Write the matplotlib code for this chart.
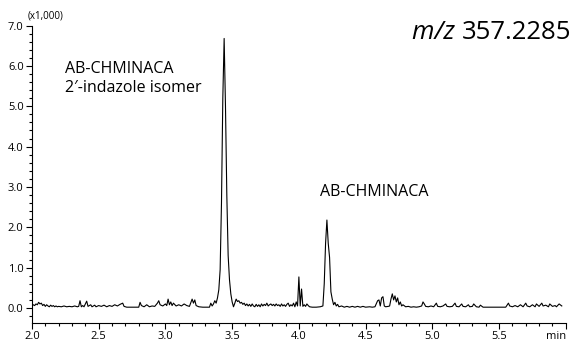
import numpy as np
import matplotlib
matplotlib.use("Agg")
import matplotlib.pyplot as plt
from matplotlib.ticker import MultipleLocator, FixedLocator

plt.rcParams['font.family'] = ['Open Sans', 'DejaVu Sans']

# retention time (min) and intensity (x1,000)
time = [
    2.00, 2.01, 2.02, 2.03, 2.04, 2.05, 2.06, 2.07, 2.08, 2.09,
    2.10, 2.11, 2.12, 2.13, 2.14, 2.15, 2.16, 2.17, 2.18, 2.19,
    2.20, 2.22, 2.24, 2.26, 2.28, 2.30, 2.32, 2.34, 2.35, 2.36,
    2.37, 2.38, 2.39, 2.41, 2.42, 2.44, 2.45, 2.47, 2.48, 2.50,
    2.52, 2.54, 2.56, 2.58, 2.60, 2.62, 2.64, 2.66, 2.68, 2.69,
    2.71, 2.74, 2.77, 2.80, 2.81, 2.82, 2.84, 2.86, 2.88, 2.90,
    2.92, 2.94, 2.95, 2.96, 2.98, 3.00, 3.01, 3.02, 3.03, 3.04,
    3.05, 3.06, 3.08, 3.10, 3.12, 3.14, 3.16, 3.18, 3.20, 3.21,
    3.22, 3.23, 3.25, 3.28, 3.31, 3.33, 3.34, 3.35, 3.36, 3.37,
    3.38, 3.39, 3.40, 3.41, 3.42, 3.43, 3.44, 3.45, 3.46, 3.47,
    3.48, 3.49, 3.50, 3.51, 3.52, 3.53, 3.54, 3.55, 3.56, 3.57,
    3.58, 3.59, 3.60, 3.61, 3.62, 3.63, 3.64, 3.65, 3.66, 3.67,
    3.68, 3.69, 3.70, 3.71, 3.72, 3.73, 3.74, 3.75, 3.76, 3.77,
    3.78, 3.79, 3.80, 3.81, 3.82, 3.83, 3.84, 3.85, 3.86, 3.87,
    3.88, 3.89, 3.90, 3.91, 3.92, 3.93, 3.94, 3.95, 3.96, 3.97,
    3.98, 3.99, 4.00, 4.01, 4.02, 4.03, 4.04, 4.05, 4.06, 4.07,
    4.08, 4.10, 4.13, 4.16, 4.18, 4.19, 4.20, 4.21, 4.22, 4.23,
    4.24, 4.25, 4.26, 4.27, 4.28, 4.29, 4.30, 4.32, 4.34, 4.36,
    4.38, 4.40, 4.42, 4.44, 4.46, 4.48, 4.50, 4.53, 4.55, 4.57,
    4.59, 4.60, 4.61, 4.62, 4.63, 4.64, 4.65, 4.67, 4.68, 4.69,
    4.70, 4.71, 4.72, 4.73, 4.74, 4.75, 4.76, 4.77, 4.78, 4.80,
    4.82, 4.84, 4.86, 4.88, 4.90, 4.92, 4.93, 4.94, 4.95, 4.97,
    4.99, 5.01, 5.03, 5.04, 5.06, 5.08, 5.10, 5.11, 5.13, 5.15,
    5.17, 5.18, 5.20, 5.22, 5.23, 5.25, 5.27, 5.28, 5.30, 5.31,
    5.33, 5.35, 5.36, 5.38, 5.40, 5.45, 5.50, 5.55, 5.57, 5.58,
    5.60, 5.62, 5.64, 5.66, 5.68, 5.70, 5.71, 5.73, 5.75, 5.77,
    5.78, 5.80, 5.82, 5.83, 5.85, 5.87, 5.88, 5.90, 5.92, 5.93,
    5.95, 5.97,
]
intensity = [
    0.05, 0.08, 0.06, 0.10, 0.08, 0.14, 0.10, 0.12, 0.06, 0.09,
    0.04, 0.08, 0.05, 0.03, 0.07, 0.04, 0.06, 0.03, 0.05, 0.03,
    0.04, 0.03, 0.05, 0.03, 0.04, 0.03, 0.05, 0.03, 0.04, 0.18,
    0.03, 0.06, 0.03, 0.17, 0.04, 0.08, 0.03, 0.07, 0.03, 0.06,
    0.04, 0.07, 0.03, 0.06, 0.04, 0.08, 0.05, 0.09, 0.12, 0.04,
    0.02, 0.02, 0.02, 0.02, 0.14, 0.06, 0.03, 0.08, 0.03, 0.05,
    0.04, 0.12, 0.18, 0.08, 0.05, 0.10, 0.06, 0.22, 0.08, 0.15,
    0.06, 0.12, 0.05, 0.08, 0.05, 0.10, 0.06, 0.04, 0.22, 0.12,
    0.20, 0.06, 0.03, 0.02, 0.02, 0.02, 0.12, 0.05, 0.10, 0.18,
    0.12, 0.25, 0.45, 0.95, 2.60, 5.20, 6.68, 5.00, 2.80, 1.30,
    0.70, 0.35, 0.15, 0.03, 0.12, 0.22, 0.16, 0.18, 0.12, 0.14,
    0.09, 0.12, 0.06, 0.10, 0.05, 0.09, 0.04, 0.10, 0.05, 0.03,
    0.09, 0.04, 0.08, 0.03, 0.10, 0.05, 0.09, 0.06, 0.12, 0.05,
    0.08, 0.10, 0.06, 0.09, 0.05, 0.10, 0.06, 0.08, 0.04, 0.10,
    0.05, 0.08, 0.04, 0.09, 0.12, 0.04, 0.08, 0.05, 0.12, 0.03,
    0.15, 0.05, 0.77, 0.05, 0.47, 0.04, 0.08, 0.04, 0.10, 0.06,
    0.03, 0.02, 0.02, 0.03, 0.05, 0.60, 1.60, 2.18, 1.60, 1.25,
    0.40, 0.22, 0.08, 0.14, 0.05, 0.09, 0.03, 0.05, 0.02, 0.04,
    0.02, 0.04, 0.02, 0.04, 0.02, 0.04, 0.02, 0.03, 0.02, 0.03,
    0.18, 0.20, 0.05, 0.25, 0.28, 0.05, 0.03, 0.04, 0.05, 0.22,
    0.35, 0.20, 0.30, 0.15, 0.25, 0.08, 0.15, 0.05, 0.08, 0.03,
    0.04, 0.02, 0.03, 0.02, 0.03, 0.05, 0.15, 0.10, 0.04, 0.03,
    0.05, 0.03, 0.12, 0.04, 0.03, 0.05, 0.10, 0.04, 0.03, 0.04,
    0.12, 0.04, 0.03, 0.10, 0.04, 0.03, 0.08, 0.03, 0.04, 0.10,
    0.03, 0.02, 0.07, 0.02, 0.02, 0.02, 0.02, 0.02, 0.12, 0.05,
    0.03, 0.06, 0.03, 0.08, 0.03, 0.12, 0.05, 0.03, 0.08, 0.03,
    0.10, 0.04, 0.12, 0.05, 0.07, 0.03, 0.10, 0.04, 0.06, 0.03,
    0.10, 0.05,
]

x_ticks = [2.0, 2.5, 3.0, 3.5, 4.0, 4.5, 5.0, 5.5, 6.0]
x_ticklabels = ["2.0", "2.5", "3.0", "3.5", "4.0", "4.5", "5.0", "5.5", "min"]
y_ticks = [0.0, 1.0, 2.0, 3.0, 4.0, 5.0, 6.0, 7.0]

fig = plt.figure(figsize=(5.74, 3.45), dpi=100)
ax = fig.add_axes([0.0557, 0.064, 0.93, 0.862])

ax.plot(time, intensity, color="black", lw=0.8)

ax.set_xlim(2.0, 6.0)
ax.set_ylim(-0.37, 7.0)
ax.xaxis.set_major_locator(FixedLocator(x_ticks))
ax.set_xticklabels(x_ticklabels)
ax.get_xticklabels()[-1].set_horizontalalignment("right")
ax.xaxis.set_minor_locator(MultipleLocator(0.1))
ax.yaxis.set_major_locator(FixedLocator(y_ticks))
ax.set_yticklabels([f"{v:.1f}" for v in y_ticks])
ax.yaxis.set_minor_locator(MultipleLocator(0.2))

for s in ["top", "right"]:
    ax.spines[s].set_visible(False)
ax.tick_params(which="major", length=4, width=0.8, labelsize=8, color="black", pad=2)
ax.tick_params(which="minor", length=2.5, width=0.8)

fig.text(0.048, 0.955, "(x1,000)", fontsize=7, ha="left", va="center")

ax.text(2.25, 5.69, "AB-CHMINACA\n2\u2032-indazole isomer", fontsize=11.5,
        ha="left", va="center", linespacing=1.3)
ax.text(4.16, 2.87, "AB-CHMINACA", fontsize=11.5, ha="left", va="center")

num = fig.text(0.995, 0.907, "357.2285", fontsize=18.5, ha="right", va="center")
ax.annotate("m/z ", xy=(0, 0), xycoords=num, ha="right", va="bottom",
            fontsize=18.5, style="italic")

fig.savefig("out.png", dpi=100)
